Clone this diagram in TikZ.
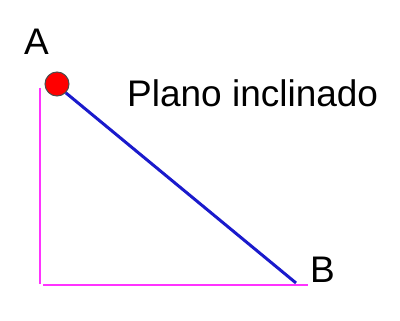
\documentclass[tikz,border=0pt]{standalone}
\usepackage{fontspec}
\setmainfont{Liberation Sans}
\usetikzlibrary{positioning}
\definecolor{wallpink}{HTML}{FF33FF}
\definecolor{rampblue}{HTML}{1A1ACC}
\definecolor{ballred}{HTML}{FF0000}
\tikzset{
  lbl/.style={inner sep=0pt, anchor=base west, font=\fontsize{37}{42}\selectfont},
  side/.style={draw=wallpink, line width=2pt},
  ramp/.style={draw=rampblue, line width=3pt},
  ball/.style={circle, draw=black!70, line width=1pt, fill=ballred, minimum size=24pt, inner sep=0pt}
}
\begin{document}
\begin{tikzpicture}[x=1pt, y=-1pt]
  \useasboundingbox (0,0) rectangle (400,321);
  \coordinate (top) at (40,88);
  \coordinate (corner) at (40,284);
  \coordinate (floor) at (43,285);
  \coordinate (end) at (308,285);
  \coordinate (rampend) at (296,283);
  \node[ball] (bola) at (57,84) {};
  \node[lbl] (labA) at (24,55) {A};
  \node[lbl] (labB) at (310,283) {B};
  \node[lbl] (plano) at (127,107) {Plano inclinado};

  \draw[side] (top) -- (corner);
  \draw[side] (floor) -- (end);
  \draw[ramp] (bola.-45) -- (rampend);
\end{tikzpicture}
\end{document}
